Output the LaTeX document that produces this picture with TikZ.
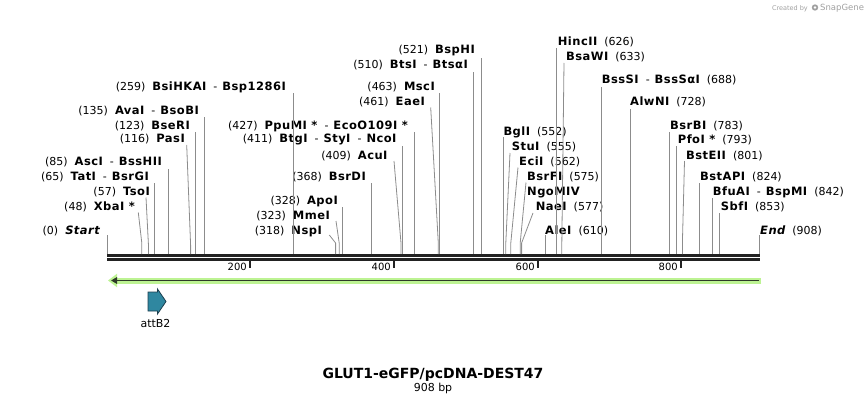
\documentclass[tikz,border=0pt]{standalone}
\usepackage{fontspec}
\setmainfont{DejaVu Sans}
\usetikzlibrary{arrows.meta}
\definecolor{siteg}{HTML}{8C8C8C}
\definecolor{rulerc}{HTML}{222222}
\definecolor{lgreen}{HTML}{BDF393}
\definecolor{dgreen}{HTML}{2E3A28}
\definecolor{attc}{HTML}{2F87A0}
\definecolor{attd}{HTML}{1C3F4F}
\definecolor{credc}{HTML}{A0A0A0}
\newcommand\nm[1]{{\fontsize{11.5}{13}\selectfont\bfseries\addfontfeatures{LetterSpace=4}#1}}
\newcommand\gp{\hspace{7pt}}
\newcommand\dsh{\hspace{7pt}-\hspace{5pt}}
\begin{document}
\begin{tikzpicture}[x=1pt,y=-1pt,
  lbl/.style={inner sep=0pt, font=\fontsize{11}{13}\selectfont},
  ticklbl/.style={inner sep=0pt, font=\fontsize{10}{12}\selectfont, anchor=base east},
  siteline/.style={draw=siteg, line width=0.8pt},
  rulerline/.style={draw=rulerc, line width=2.7pt},
  tickmark/.style={draw=rulerc, line width=2pt}]
\useasboundingbox (0,0) rectangle (868,404);

% credit
\node[inner sep=0pt, anchor=base east, text=credc, font=\fontsize{6.5}{8}\selectfont] (cred) at (808,10.5) {Created by};
\fill[credc] (815,7.5) circle (3.2);
\fill[white] (815,7.5) circle (1.3);
\node[inner sep=0pt, anchor=base west, text=credc, font=\fontsize{8.5}{10}\selectfont] (snap) at (820,11) {SnapGene};

% ruler
\coordinate (r0) at (107,255.3);
\coordinate (r1) at (760,255.3);
\coordinate (s0) at (107,259.3);
\coordinate (s1) at (760,259.3);
\draw[rulerline] (r0) -- (r1);
\draw[rulerline] (s0) -- (s1);
\foreach \tx/\tl in {250/200, 394/400, 538/600, 681/800}{
  \draw[tickmark] (\tx,260.5) -- (\tx,268);
  \node[ticklbl] (t\tl) at (\tx-3,270.5) {\tl};
}

% ---- left-side labels ----
\node[lbl,anchor=base east] (Start) at (100,234) {(0)\gp\nm{\itshape Start}};
\node[lbl,anchor=base east] (XbaI) at (135,210.7) {(48)\gp\nm{XbaI *}};
\node[lbl,anchor=base east] (TsoI) at (150,195.7) {(57)\gp\nm{TsoI}};
\node[lbl,anchor=base east] (TatI) at (149,180.5) {(65)\gp\nm{TatI}\dsh\nm{BsrGI}};
\node[lbl,anchor=base east] (AscI) at (162,165.3) {(85)\gp\nm{AscI}\dsh\nm{BssHII}};
\node[lbl,anchor=base east] (PasI) at (185,142.3) {(116)\gp\nm{PasI}};
\node[lbl,anchor=base east] (BseRI) at (190,129) {(123)\gp\nm{BseRI}};
\node[lbl,anchor=base east] (AvaI) at (199,114) {(135)\gp\nm{AvaI}\dsh\nm{BsoBI}};
\node[lbl,anchor=base east] (BsiHKAI) at (286,90.7) {(259)\gp\nm{BsiHKAI}\dsh\nm{Bsp1286I}};
\node[lbl,anchor=base east] (NspI) at (322,234) {(318)\gp\nm{NspI}};
\node[lbl,anchor=base east] (MmeI) at (330,219) {(323)\gp\nm{MmeI}};
\node[lbl,anchor=base east] (ApoI) at (338,204) {(328)\gp\nm{ApoI}};
\node[lbl,anchor=base east] (BsrDI) at (366,180.7) {(368)\gp\nm{BsrDI}};
\node[lbl,anchor=base east] (AcuI) at (387.7,159) {(409)\gp\nm{AcuI}};
\node[lbl,anchor=base east] (BtgI) at (396.7,142.3) {(411)\gp\nm{BtgI}\dsh\nm{StyI}\dsh\nm{NcoI}};
\node[lbl,anchor=base east] (PpuMI) at (408,129) {(427)\gp\nm{PpuMI *}\dsh\nm{EcoO109I *}};
\node[lbl,anchor=base east] (EaeI) at (425,105.7) {(461)\gp\nm{EaeI}};
\node[lbl,anchor=base east] (MscI) at (435,90.7) {(463)\gp\nm{MscI}};
\node[lbl,anchor=base east] (BtsI) at (468,69) {(510)\gp\nm{BtsI}\dsh\nm{BtsαI}};
\node[lbl,anchor=base east] (BspHI) at (475,54) {(521)\gp\nm{BspHI}};

% ---- right-side labels ----
\node[lbl,anchor=base west] (BglI) at (503.3,135.7) {\nm{BglI}\gp(552)};
\node[lbl,anchor=base west] (StuI) at (511.7,150.7) {\nm{StuI}\gp(555)};
\node[lbl,anchor=base west] (EciI) at (519,165.7) {\nm{EciI}\gp(562)};
\node[lbl,anchor=base west] (BsrFI) at (527,180.7) {\nm{BsrFI}\gp(575)};
\node[lbl,anchor=base west] (NgoMIV) at (527,195.7) {\nm{NgoMIV}};
\node[lbl,anchor=base west] (NaeI) at (535.7,210.7) {\nm{NaeI}\gp(577)};
\node[lbl,anchor=base west] (AleI) at (545,234) {\nm{AleI}\gp(610)};
\node[lbl,anchor=base west] (HincII) at (557.7,45.7) {\nm{HincII}\gp(626)};
\node[lbl,anchor=base west] (BsaWI) at (566,60.7) {\nm{BsaWI}\gp(633)};
\node[lbl,anchor=base west] (BssSI) at (601.7,84) {\nm{BssSI}\dsh\nm{BssSαI}\gp(688)};
\node[lbl,anchor=base west] (AlwNI) at (630,105.7) {\nm{AlwNI}\gp(728)};
\node[lbl,anchor=base west] (BsrBI) at (670,129) {\nm{BsrBI}\gp(783)};
\node[lbl,anchor=base west] (PfoI) at (677.7,143.3) {\nm{PfoI *}\gp(793)};
\node[lbl,anchor=base west] (BstEII) at (686,159) {\nm{BstEII}\gp(801)};
\node[lbl,anchor=base west] (BstAPI) at (700,180.7) {\nm{BstAPI}\gp(824)};
\node[lbl,anchor=base west] (BfuAI) at (712.7,195.7) {\nm{BfuAI}\dsh\nm{BspMI}\gp(842)};
\node[lbl,anchor=base west] (SbfI) at (720.7,210.7) {\nm{SbfI}\gp(853)};
\node[lbl,anchor=base west] (End) at (760,234) {\nm{\itshape End}\gp(908)};

% ---- site lines ----
\foreach \bx/\ty in {107.3/235, 154.3/183, 168.5/169, 195.6/131.7, 204.2/117, 293.3/93,
   342.8/206.7, 371.5/183, 402.4/146, 413.9/131.7, 439.7/93, 473.5/71.7, 481.4/58,
   503.6/137, 545.3/235, 556.8/48, 601.3/87, 630/109, 669.5/131.7, 676.7/146,
   699/183, 711.9/198, 719.8/213, 759.3/235}{
  \draw[siteline] (\bx,254) -- (\bx,\ty);
}
\foreach \bx/\by/\tx/\ty in {141.8/243/138.3/212.5, 148.4/244/146/197.5, 190.6/245/186.7/145,
   335.6/243/329.3/235, 339.2/243/336/221, 401/243/394/161, 438.3/243/430.7/107.5,
   505.8/243/510/153, 510.8/243/518/167.5, 520.2/243/526/182.5, 521.6/243/533/213,
   561.8/245/564/63, 682.4/243/684.5/161}{
  \draw[siteline] (\bx,254) -- (\bx,\by) -- (\tx,\ty);
}

% ---- green feature arrow ----
\coordinate (gA) at (761,280.5);
\coordinate (gB) at (108,280.5);
\coordinate (dA) at (759,280.5);
\coordinate (dB) at (111,280.5);
\draw[lgreen, line width=6pt, -{Triangle[length=9pt,width=13pt]}] (gA) -- (gB);
\draw[dgreen, line width=1.6pt, -{Triangle[length=6pt,width=6.5pt]}] (dA) -- (dB);

% ---- attB2 ----
\draw[fill=attc, draw=attd, line width=0.8pt]
  (148,292) -- (157.5,292) -- (157.5,289) -- (166,301.5) -- (157.5,314) -- (157.5,311) -- (148,311) -- cycle;
\node[lbl, anchor=base] (attB2) at (155.5,327.5) {attB2};

% ---- title ----
\node[inner sep=0pt, anchor=base, font=\fontsize{14}{16}\selectfont\bfseries] (title) at (433,378.5) {GLUT1-eGFP/pcDNA-DEST47};
\node[inner sep=0pt, anchor=base, font=\fontsize{11}{13}\selectfont] (bp) at (433,391) {908 bp};
\end{tikzpicture}
\end{document}
